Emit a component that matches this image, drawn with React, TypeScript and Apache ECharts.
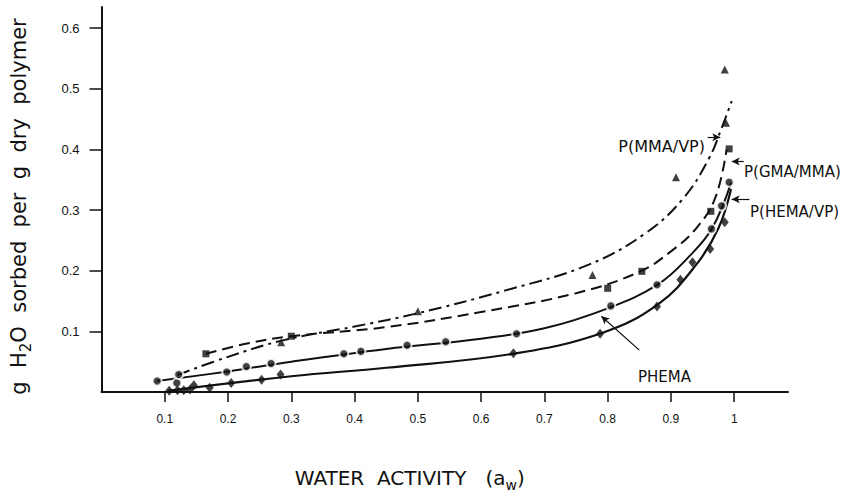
import { useEffect, useRef } from 'react';
import * as echarts from 'echarts';

// ---- axis ticks ----
const xTicks = [0.1, 0.2, 0.3, 0.4, 0.5, 0.6, 0.7, 0.8, 0.9, 1];
const yTicks = [0.1, 0.2, 0.3, 0.4, 0.5, 0.6];

// ---- measured points (water activity, g H2O / g dry polymer) ----
const mmaVpPoints = [
  [0.284, 0.082], [0.5, 0.133], [0.776, 0.193], [0.908, 0.354], [0.987, 0.444], [0.985, 0.532],
];
const gmaMmaPoints = [
  [0.165, 0.063], [0.3, 0.092], [0.8, 0.171], [0.854, 0.199], [0.963, 0.298], [0.992, 0.401],
];
const phemaPoints = [
  [0.088, 0.018], [0.119, 0.015], [0.122, 0.029], [0.198, 0.033], [0.229, 0.042], [0.268, 0.047],
  [0.383, 0.063], [0.41, 0.067], [0.483, 0.077], [0.544, 0.083], [0.656, 0.096], [0.805, 0.142],
  [0.878, 0.177], [0.964, 0.269], [0.98, 0.307], [0.992, 0.346],
];
const hemaVpPoints = [
  [0.107, 0.002], [0.12, 0.003], [0.13, 0.003], [0.14, 0.004], [0.146, 0.011], [0.171, 0.007],
  [0.205, 0.015], [0.253, 0.02], [0.283, 0.029], [0.651, 0.064], [0.788, 0.096], [0.878, 0.141],
  [0.915, 0.185], [0.934, 0.214], [0.962, 0.236], [0.985, 0.28],
];

// ---- fitted curves ----
const mmaVpCurve = [
  [0.12, 0.028], [0.2, 0.058], [0.29, 0.086], [0.4, 0.108], [0.5, 0.13], [0.64, 0.168],
  [0.77, 0.21], [0.86, 0.262], [0.92, 0.32], [0.96, 0.385], [0.98, 0.435], [0.996, 0.48],
];
const gmaMmaCurve = [
  [0.165, 0.063], [0.23, 0.08], [0.3, 0.092], [0.45, 0.107], [0.6, 0.132], [0.75, 0.163],
  [0.85, 0.198], [0.9, 0.232], [0.94, 0.27], [0.97, 0.32], [0.988, 0.4],
];
const phemaCurve = [
  [0.088, 0.018], [0.2, 0.034], [0.3, 0.05], [0.45, 0.071], [0.6, 0.088], [0.7, 0.105],
  [0.8, 0.138], [0.88, 0.178], [0.93, 0.225], [0.965, 0.27], [0.995, 0.345],
];
const hemaVpCurve = [
  [0.105, 0.002], [0.3, 0.026], [0.45, 0.04], [0.65, 0.063], [0.79, 0.097], [0.88, 0.145],
  [0.94, 0.21], [0.975, 0.27], [0.995, 0.335],
];

// ---- annotation arrows: [tail, tip] in data coordinates ----
const arrows = [
  [[0.958, 0.42], [0.978, 0.42]],
  [[1.015, 0.38], [0.996, 0.38]],
  [[1.024, 0.318], [0.996, 0.318]],
  [[0.85, 0.069], [0.79, 0.125]],
];

const INK = '#111';
const FONT = '"Liberation Sans", Arial, sans-serif';
const WIDE = '"DejaVu Sans", "Liberation Sans", sans-serif';

export default function App() {
  const ref = useRef<HTMLDivElement>(null);
  useEffect(() => {
    if (!ref.current) return;
    const chart = echarts.init(ref.current, undefined, { renderer: 'svg' });
    const curve = (data: number[][], type: any, width = 2) => ({
      type: 'line',
      data,
      smooth: 0.4,
      showSymbol: false,
      silent: true,
      z: 2,
      lineStyle: { color: INK, width, type },
    });
    const pts = (data: number[][], symbol: string, size: any, extra: any = {}) => ({
      type: 'scatter',
      data,
      symbol,
      symbolSize: size,
      silent: true,
      z: 3,
      itemStyle: { color: INK, ...extra },
    });
    chart.setOption({
      animation: false,
      backgroundColor: '#fff',
      grid: { left: 89, right: 62, top: 7, bottom: 79, containLabel: false },
      xAxis: {
        type: 'value',
        min: 0,
        max: 1.085,
        interval: 0.1,
        name: '{t|WATER  ACTIVITY   (a}{s|w}{t|)}',
        nameLocation: 'middle',
        nameGap: 72,
        nameTextStyle: {
          padding: [0, 70, 0, 0],
          rich: {
            t: { fontSize: 20, fontFamily: WIDE, color: INK, lineHeight: 28, verticalAlign: 'middle' },
            s: { fontSize: 14, fontFamily: WIDE, color: INK, lineHeight: 14, verticalAlign: 'bottom' },
          },
        },
        axisLine: { show: true, onZero: false, lineStyle: { color: INK, width: 2 } },
        axisTick: { show: true, customValues: xTicks, length: 10, lineStyle: { color: INK, width: 1.5 } },
        axisLabel: {
          customValues: xTicks,
          margin: 21,
          fontSize: 12,
          fontFamily: FONT,
          color: INK,
          formatter: (v: number) => (Math.abs(v - 1) < 1e-9 ? '1' : String(Math.round(v * 10) / 10)),
        },
        splitLine: { show: false },
      },
      yAxis: {
        type: 'value',
        min: 0,
        max: 0.635,
        interval: 0.1,
        name: '{t|g  H}{s|2}{t|O  sorbed  per  g  dry  polymer}',
        nameLocation: 'middle',
        nameGap: 68,
        nameTextStyle: {
          padding: [0, 14, 0, 0],
          rich: {
            t: { fontSize: 21, fontFamily: WIDE, color: INK, lineHeight: 30, verticalAlign: 'middle' },
            s: { fontSize: 15, fontFamily: WIDE, color: INK, lineHeight: 15, verticalAlign: 'bottom' },
          },
        },
        axisLine: { show: true, lineStyle: { color: INK, width: 2 } },
        axisTick: { show: true, customValues: yTicks, length: 12, lineStyle: { color: INK, width: 1.5 } },
        axisLabel: {
          customValues: yTicks,
          margin: 22,
          fontSize: 13,
          fontFamily: FONT,
          color: INK,
          formatter: (v: number) => String(Math.round(v * 10) / 10),
        },
        splitLine: { show: false },
      },
      series: [
        curve(mmaVpCurve, [13, 5, 3, 5]),
        curve(gmaMmaCurve, [11, 6]),
        curve(phemaCurve, 'solid'),
        curve(hemaVpCurve, 'solid', 2.2),
        pts(mmaVpPoints, 'triangle', 8),
        pts(gmaMmaPoints, 'rect', 7),
        pts(phemaPoints, 'circle', 9, { borderColor: '#fff', borderWidth: 2 }),
        {
          ...pts(hemaVpPoints, 'diamond', [8, 10]),
          markLine: {
            silent: true,
            symbol: ['none', 'arrow'],
            symbolSize: [6, 8],
            label: { show: false },
            lineStyle: { color: INK, width: 1.2, type: 'solid' },
            data: arrows.map(([a, b]) => [{ coord: a }, { coord: b }]),
          },
        },
      ],
      graphic: [
        { type: 'text', x: 705, y: 146, style: { text: 'P(MMA/VP)', font: `16px ${WIDE}`, fill: INK, align: 'right', verticalAlign: 'middle' } },
        { type: 'text', x: 744, y: 172, style: { text: 'P(GMA/MMA)', font: `15px ${WIDE}`, fill: INK, align: 'left', verticalAlign: 'middle' } },
        { type: 'text', x: 750, y: 212, style: { text: 'P(HEMA/VP)', font: `15px ${WIDE}`, fill: INK, align: 'left', verticalAlign: 'middle' } },
        { type: 'text', x: 638, y: 377, style: { text: 'PHEMA', font: `15px ${WIDE}`, fill: INK, align: 'left', verticalAlign: 'middle' } },
      ],
    });
    return () => chart.dispose();
  }, []);
  return <div ref={ref} style={{ position: 'fixed', left: 0, top: 0, width: 850, height: 497 }} />;
}
